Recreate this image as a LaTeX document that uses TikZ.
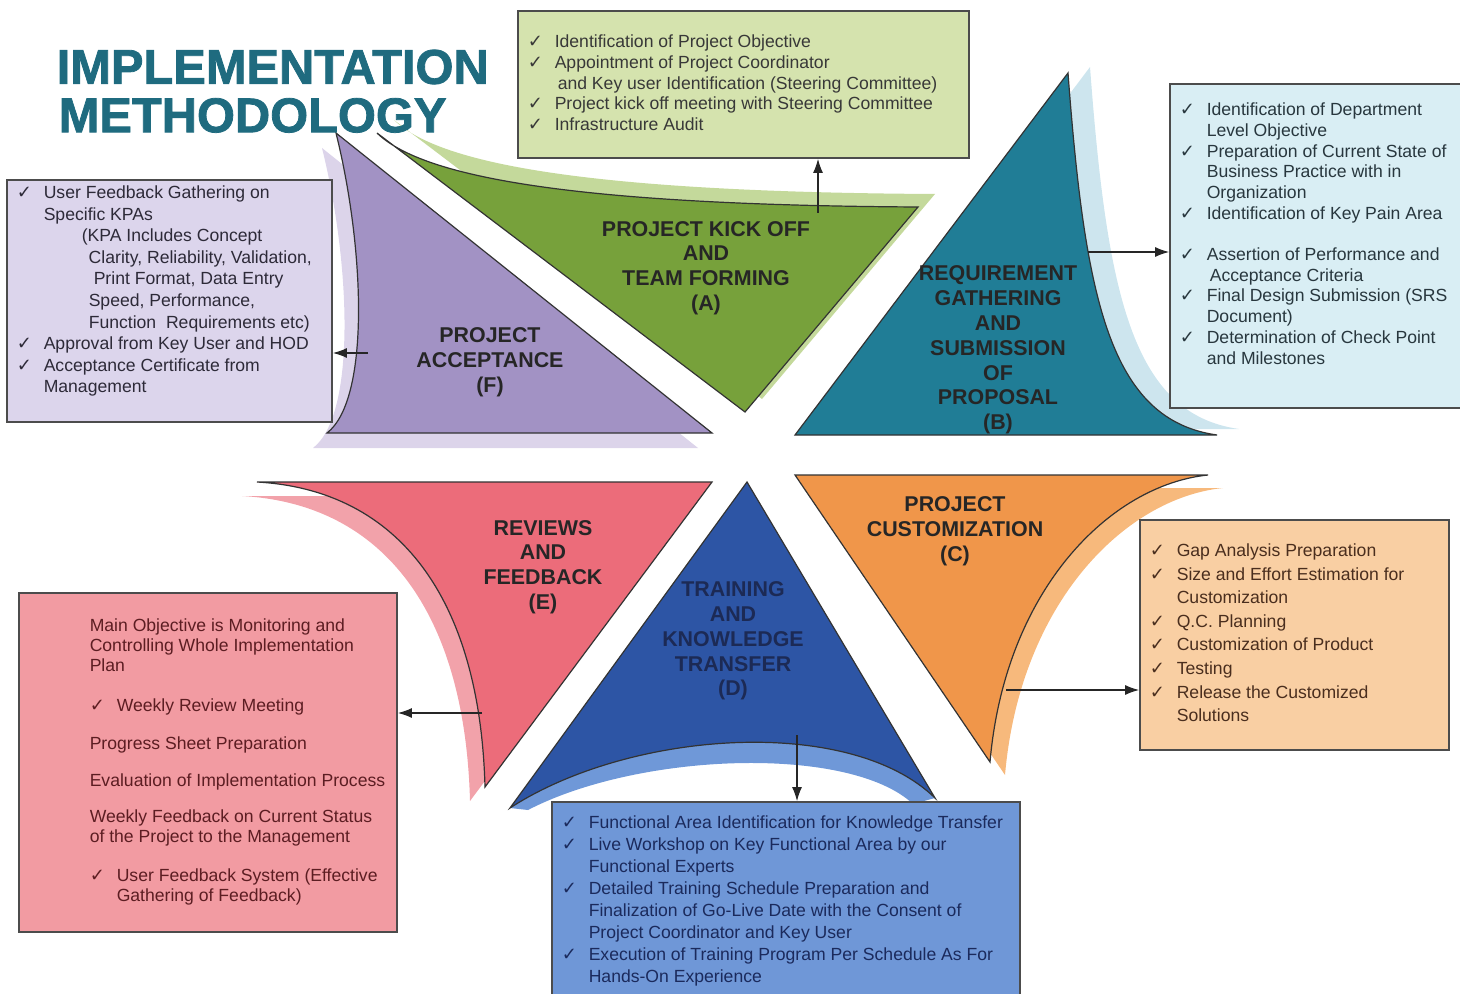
\documentclass[tikz,border=0pt]{standalone}
\usepackage{fontspec}
\setmainfont{Liberation Sans}
\newfontfamily\checkfont{DejaVu Sans}
\newfontfamily\titlefont{Liberation Sans}[BoldFeatures={FakeBold=1.6}]
\usetikzlibrary{arrows.meta,fit}

% colours of the six phases, their shadows and their boxes
\definecolor{titleteal}{HTML}{1F6B7F}
\definecolor{phaseA}{HTML}{77A13B}\definecolor{shadeA}{HTML}{C4D99B}\definecolor{noteA}{HTML}{D5E3AE}
\definecolor{phaseB}{HTML}{207D96}\definecolor{shadeB}{HTML}{CDE5EE}\definecolor{noteB}{HTML}{D9EEF4}
\definecolor{phaseC}{HTML}{F0964A}\definecolor{shadeC}{HTML}{F7B97C}\definecolor{noteC}{HTML}{F9CFA3}
\definecolor{phaseD}{HTML}{2D55A5}\definecolor{shadeD}{HTML}{6F98D8}\definecolor{noteD}{HTML}{6F97D7}
\definecolor{phaseE}{HTML}{EC6C7A}\definecolor{shadeE}{HTML}{F2A2AA}\definecolor{noteE}{HTML}{F29BA2}
\definecolor{phaseF}{HTML}{A292C4}\definecolor{shadeF}{HTML}{DCD4EA}\definecolor{noteF}{HTML}{DCD5EC}

\newcommand{\ck}{\makebox[13.5pt][l]{\checkfont\small ✓}}
\newcommand{\ind}{\hspace*{13.5pt}}

% outlines of the six phases
\newcommand{\triA}{(377,133) .. controls (420,175) and (560,205) .. (918,207) -- (745,412) -- cycle}
\newcommand{\triB}{(795,435) -- (1068,73) .. controls (1085,300) and (1110,420) .. (1217,435) -- cycle}
\newcommand{\triC}{(795,475) -- (1208,475) .. controls (1110,485) and (1005,590) .. (990,762) -- cycle}
\newcommand{\triD}{(747,482) -- (935,798) .. controls (850,715) and (630,730) .. (510,808) -- cycle}
\newcommand{\triE}{(712,482) -- (485,787) .. controls (480,600) and (400,490) .. (257,482) -- cycle}
\newcommand{\triF}{(712,433) -- (327,433) .. controls (370,400) and (365,250) .. (336,133) -- cycle}

\tikzset{every picture/.style={line width=0.75pt}}
\tikzset{
  phaseshape/.style={draw=black!80, line width=0.6pt},
  infobox/.style={draw=black!70, line width=0.9pt, inner sep=0pt},
  boxtext/.style={anchor=north west, inner sep=0pt, align=left},
  phaselabel/.style={align=center, inner sep=0pt, text=black!85,
    font=\fontsize{10.7}{12.4}\selectfont\bfseries},
  arr/.style={-{Latex[length=7pt,width=5pt]}, line width=0.6pt, black!85}
}

\begin{document}
\begin{tikzpicture}[x=0.5pt,y=-0.5pt]
	\useasboundingbox (0,0) rectangle (1460,994);

	%Shadows
	\fill[shadeA, shift={(17,-13)}] \triA;
	\fill[shadeB, shift={(22,-6)}] \triB;
	\fill[shadeC, shift={(15,13)}] \triC;
	\fill[shadeD] (510,808) .. controls (630,730) and (850,715) .. (935,798) -- (913,804) .. controls (850,745) and (640,752) .. (528,810) -- cycle;
	\fill[shadeE, shift={(-15,14)}] \triE;
	\fill[shadeF, shift={(-14,15)}] \triF;

	%Shapes: phases A to F
	\draw[phaseshape, fill=phaseA] \triA;
	\draw[phaseshape, fill=phaseB] \triB;
	\draw[phaseshape, fill=phaseC] \triC;
	\draw[phaseshape, fill=phaseD] \triD;
	\draw[phaseshape, fill=phaseE] \triE;
	\draw[phaseshape, fill=phaseF] \triF;

	%Boxes
	\node[infobox, fill=noteA, fit={(518,11) (969,158)}] (boxA) {};
	\node[infobox, fill=noteB, fit={(1170,84) (1466,408)}] (boxB) {};
	\node[infobox, fill=noteC, fit={(1140,520) (1449,750)}] (boxC) {};
	\node[infobox, fill=noteD, fit={(552,802) (1020,1000)}] (boxD) {};
	\node[infobox, fill=noteE, fit={(19,593) (397,932)}] (boxE) {};
	\node[infobox, fill=noteF, fit={(7,180) (332,422)}] (boxF) {};

	%Arrows from the phases to their boxes
	\coordinate (fromA) at (818,213);
	\coordinate (fromB) at (1088,252);
	\coordinate (fromC) at (1006,690);
	\coordinate (fromD) at (797,735);
	\coordinate (fromE) at (482,713);
	\coordinate (fromF) at (368,353);
	\draw[arr] (fromA) -- (fromA |- boxA.south);
	\draw[arr] (fromB) -- (fromB -| boxB.west);
	\draw[arr] (fromC) -- (fromC -| boxC.west);
	\draw[arr] (fromD) -- (fromD |- boxD.north);
	\draw[arr] (fromE) -- (fromE -| boxE.east);
	\draw[arr] (fromF) -- (fromF -| boxF.east);

	% Text Node
	\node[anchor=north west, inner sep=0pt, align=left, text=titleteal,
	  font=\titlefont\fontsize{24.4}{24.2}\selectfont\bfseries] (title) at (56,49) {IMPLEMENTATION\\\hspace*{1pt}METHODOLOGY};

	% Text Node
	\node[phaselabel] (labA) at (706,268) {PROJECT KICK OFF\\AND\\TEAM FORMING\\(A)};
	% Text Node
	\node[phaselabel] (labB) at (998,350) {REQUIREMENT\\GATHERING\\AND\\SUBMISSION\\OF\\PROPOSAL\\(B)};
	% Text Node
	\node[phaselabel] (labC) at (955,531) {PROJECT\\CUSTOMIZATION\\(C)};
	% Text Node
	\node[phaselabel, text={rgb,255:red,28;green,42;blue,85}] (labD) at (733,641) {TRAINING\\AND\\KNOWLEDGE\\TRANSFER\\(D)};
	% Text Node
	\node[phaselabel] (labE) at (543,567) {REVIEWS\\AND\\FEEDBACK\\(E)};
	% Text Node
	\node[phaselabel] (labF) at (490,362) {PROJECT\\ACCEPTANCE\\(F)};

	% Text Node
	\node[boxtext, text=black!78, font=\fontsize{8.8}{10.4}\selectfont] (txtA) at (527,34) {\ck Identification of Project Objective\\
	\ck Appointment of Project Coordinator\\
	\hspace*{15pt}and Key user Identification (Steering Committee)\\
	\ck Project kick off meeting with Steering Committee\\
	\ck Infrastructure Audit};
	% Text Node
	\node[boxtext, text={rgb,255:red,40;green,55;blue,62}, font=\fontsize{8.8}{10.4}\selectfont] (txtB) at (1179,102) {\ck Identification of Department\\
	\ind Level Objective\\
	\ck Preparation of Current State of\\
	\ind Business Practice with in\\
	\ind Organization\\
	\ck Identification of Key Pain Area\\[10pt]
	\ck Assertion of Performance and\\
	\hspace*{15pt}Acceptance Criteria\\
	\ck Final Design Submission (SRS\\
	\ind Document)\\
	\ck Determination of Check Point\\
	\ind and Milestones};
	% Text Node
	\node[boxtext, text={rgb,255:red,74;green,46;blue,30}, font=\fontsize{8.8}{11.8}\selectfont] (txtC) at (1149,543) {\ck Gap Analysis Preparation\\
	\ck Size and Effort Estimation for\\
	\ind Customization\\
	\ck Q.C. Planning\\
	\ck Customization of Product\\
	\ck Testing\\
	\ck Release the Customized\\
	\ind Solutions};
	% Text Node
	\node[boxtext, text={rgb,255:red,27;green,42;blue,92}, font=\fontsize{8.8}{11}\selectfont] (txtD) at (561,815) {\ck Functional Area Identification for Knowledge Transfer\\
	\ck Live Workshop on Key Functional Area by our\\
	\ind Functional Experts\\
	\ck Detailed Training Schedule Preparation and\\
	\ind Finalization of Go-Live Date with the Consent of\\
	\ind Project Coordinator and Key User\\
	\ck Execution of Training Program Per Schedule As For\\
	\ind Hands-On Experience};
	% Text Node
	\node[boxtext, text={rgb,255:red,92;green,29;blue,34}, font=\fontsize{8.8}{10}\selectfont] (txtE) at (89,618) {Main Objective is Monitoring and\\
	Controlling Whole Implementation\\
	Plan\\[10pt]
	\ck Weekly Review Meeting\\[9pt]
	Progress Sheet Preparation\\[8.5pt]
	Evaluation of Implementation Process\\[8pt]
	Weekly Feedback on Current Status\\
	of the Project to the Management\\[9.5pt]
	\ck User Feedback System (Effective\\
	\ind Gathering of Feedback)};
	% Text Node
	\node[boxtext, text={rgb,255:red,45;green,42;blue,56}, font=\fontsize{8.8}{10.8}\selectfont] (txtF) at (16,185) {\ck User Feedback Gathering on\\
	\ind Specific KPAs\\
	\hspace*{32.5pt}(KPA Includes Concept\\
	\hspace*{36pt}Clarity, Reliability, Validation,\\
	\hspace*{38.5pt}Print Format, Data Entry\\
	\hspace*{36pt}Speed, Performance,\\
	\hspace*{36pt}Function\ \ Requirements etc)\\
	\ck Approval from Key User and HOD\\
	\ck Acceptance Certificate from\\
	\ind Management};
\end{tikzpicture}
\end{document}
